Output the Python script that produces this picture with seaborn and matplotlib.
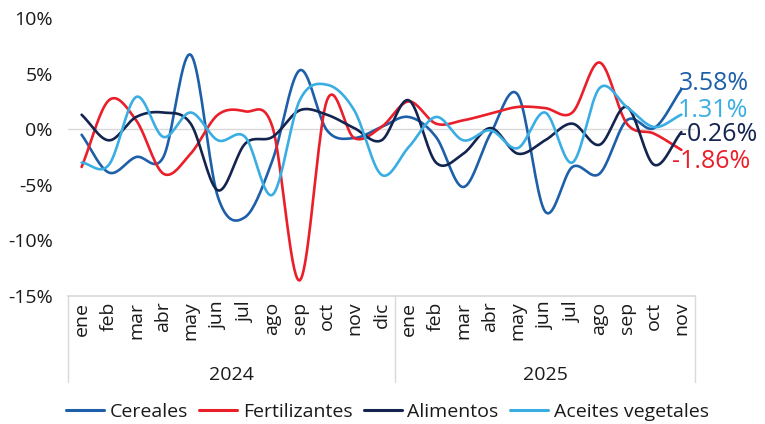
import numpy as np
import pandas as pd
import matplotlib
matplotlib.use("Agg")
import matplotlib.pyplot as plt
import seaborn as sns

# Data (monthly % change)
months = ['ene', 'feb', 'mar', 'abr', 'may', 'jun', 'jul', 'ago', 'sep', 'oct', 'nov', 'dic',
          'ene', 'feb', 'mar', 'abr', 'may', 'jun', 'jul', 'ago', 'sep', 'oct', 'nov']
years = ['2024', '2025']
cereales = [-0.5, -3.9, -2.5, -2.5, 6.7, -6.1, -7.9, -2.8, 5.3, -0.1, -0.8, 0.2,
            1.1, -0.7, -5.2, -0.4, 3.1, -7.4, -3.4, -4.0, 0.8, 0.1, 3.58]
fertilizantes = [-3.4, 2.6, 0.8, -4.0, -2.2, 1.3, 1.6, 0.2, -13.6, 2.6, -0.8, 0.2,
                 2.5, 0.5, 0.8, 1.4, 2.0, 1.9, 1.5, 6.0, 0.5, -0.4, -1.86]
alimentos = [1.3, -1.0, 1.1, 1.5, 0.5, -5.5, -1.3, -0.7, 1.7, 1.3, 0.1, -1.0,
             2.6, -3.0, -2.2, 0.1, -2.2, -1.0, 0.5, -1.4, 2.0, -3.2, -0.26]
aceites = [-3.0, -3.2, 2.9, -0.7, 1.5, -1.0, -0.7, -5.9, 2.6, 4.0, 1.7, -4.1,
           -1.6, 1.1, -1.0, -0.1, -1.7, 1.5, -3.0, 3.7, 2.0, 0.2, 1.31]

series = {'Cereales': cereales, 'Fertilizantes': fertilizantes,
          'Alimentos': alimentos, 'Aceites vegetales': aceites}
colors = {'Cereales': '#1d5fa9', 'Fertilizantes': '#ea1f2a',
          'Alimentos': '#13244f', 'Aceites vegetales': '#3aaee3'}


def smooth(y, n=20):
    # Catmull-Rom spline through the points (like Excel's smoothed line)
    y = np.asarray(y, dtype=float)
    x = np.arange(len(y), dtype=float)
    p = np.concatenate([[2 * y[0] - y[1]], y, [2 * y[-1] - y[-2]]])
    xs, ys = [], []
    for i in range(len(y) - 1):
        t = np.linspace(0, 1, n, endpoint=False)
        p0, p1, p2, p3 = p[i], p[i + 1], p[i + 2], p[i + 3]
        seg = 0.5 * ((2 * p1) + (-p0 + p2) * t + (2 * p0 - 5 * p1 + 4 * p2 - p3) * t ** 2
                     + (-p0 + 3 * p1 - 3 * p2 + p3) * t ** 3)
        xs.append(x[i] + t)
        ys.append(seg)
    xs.append([x[-1]])
    ys.append([y[-1]])
    return np.concatenate(xs), np.concatenate(ys)


frames = []
for name, vals in series.items():
    xs, ys = smooth(vals)
    frames.append(pd.DataFrame({'x': xs, 'y': ys, 'serie': name}))
df = pd.concat(frames, ignore_index=True)

sns.set_theme(style='white')
plt.rcParams['font.family'] = ['Open Sans', 'DejaVu Sans']

fig = plt.figure(figsize=(7.65, 4.24), dpi=100)
ax = fig.add_axes([68 / 765, 1 - 296 / 424, (695 - 68) / 765, (296 - 18) / 424])

sns.lineplot(data=df, x='x', y='y', hue='serie', palette=colors, sort=False,
             estimator=None, linewidth=1.9, ax=ax, legend=False, zorder=3)

txt = '#1a1a1a'
fs = 14
ax.set_xlim(-0.5, len(months) - 0.5)
ax.set_ylim(-15, 10)
ax.set_yticks([-15, -10, -5, 0, 5, 10])
ax.set_yticklabels([f'{v}%' for v in [-15, -10, -5, 0, 5, 10]], fontsize=fs, color=txt)
ax.axhline(0, color='#d9d9d9', linewidth=1, zorder=1)
ax.set_xticks(range(len(months)))
ax.set_xticklabels(months, rotation=90, fontsize=fs, color=txt)
ax.tick_params(axis='both', length=0, pad=4)
ax.tick_params(axis='y', pad=11)
ax.set_xlabel('')
ax.set_ylabel('')
for s in ['top', 'right', 'left']:
    ax.spines[s].set_visible(False)
ax.spines['bottom'].set_color('#d9d9d9')

# Category separators and years
for xv in [-0.5, 11.5, 22.5]:
    ax.plot([xv, xv], [0, -0.31], transform=ax.get_xaxis_transform(),
            color='#d9d9d9', linewidth=1, clip_on=False)
ax.text(5.5, -0.285, years[0], transform=ax.get_xaxis_transform(),
        ha='center', va='center', fontsize=fs, color=txt)
ax.text(17, -0.285, years[1], transform=ax.get_xaxis_transform(),
        ha='center', va='center', fontsize=fs, color=txt)

# End labels
offsets = {'Cereales': (-1.5, 4.5), 'Fertilizantes': (-7, -8.5),
           'Alimentos': (-1.5, -2), 'Aceites vegetales': (-3, 3)}
for name, vals in series.items():
    ax.annotate(f'{vals[-1]:.2f}%', xy=(len(vals) - 1, vals[-1]),
                xytext=offsets[name], textcoords='offset points',
                ha='left', va='center', fontsize=18, color=colors[name],
                annotation_clip=False)

handles = [plt.Line2D([], [], color=colors[n], linewidth=2.2) for n in series]
fig.legend(handles, list(series.keys()), loc='center left',
           bbox_to_anchor=(66 / 765, 1 - 412 / 424),
           ncol=4, frameon=False, fontsize=fs, handlelength=1.95, handletextpad=0.28,
           columnspacing=0.6, borderpad=0, borderaxespad=0, labelcolor=txt)

fig.savefig('out.png', dpi=100)
